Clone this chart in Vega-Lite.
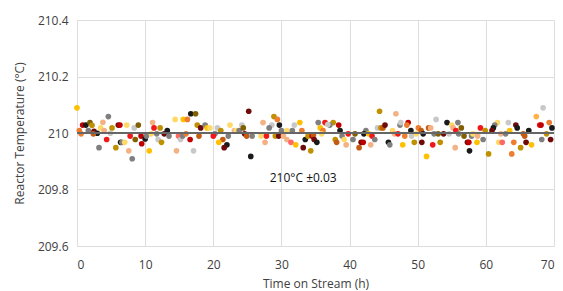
{
"$schema":"https://vega.github.io/schema/vega-lite/v6.json",
"width":477,"height":226,
"autosize":"none",
"padding":{"left":77,"top":20,"right":9,"bottom":45},
"config":{"view":{"stroke":null},"font":"Open Sans",
 "axis":{"labelColor":"#404040","titleColor":"#404040","labelFontSize":12,"titleFontSize":12,"titleFontWeight":"normal","gridColor":"#DDDDDD","domainColor":"#DDDDDD","ticks":false,"labelPadding":9}},
"datasets":{
"pts":[
{"x":0,"y":210.089,"c":"Y"},{"x":0.34,"y":210.009,"c":"O"},{"x":0.6,"y":209.997,"c":"O"},{"x":0.83,"y":210.028,"c":"DR"},{"x":1.3,"y":210.028,"c":"K"},{"x":1.9,"y":210.037,"c":"OL"},{"x":2.2,"y":210.027,"c":"G"},{"x":1.66,"y":210.009,"c":"DG"},{"x":2.5,"y":210.006,"c":"M"},{"x":2.98,"y":209.999,"c":"K"},{"x":2.4,"y":209.997,"c":"RU"},{"x":3.47,"y":210.018,"c":"LY"},{"x":3.8,"y":210.038,"c":"P"},{"x":4.6,"y":210.058,"c":"DG"},{"x":3.99,"y":210.009,"c":"P"},{"x":4.9,"y":209.999,"c":"LG"},{"x":5.14,"y":210.018,"c":"G"},{"x":6.06,"y":210.028,"c":"M"},{"x":6.3,"y":210.028,"c":"DR"},{"x":7.3,"y":210.028,"c":"LY"},{"x":8.4,"y":210.018,"c":"LG"},{"x":9.0,"y":210.028,"c":"OL"},{"x":4.35,"y":209.977,"c":"R"},{"x":3.23,"y":209.948,"c":"DG"},{"x":5.7,"y":209.948,"c":"G"},{"x":6.4,"y":209.967,"c":"K"},{"x":6.6,"y":209.967,"c":"DG"},{"x":7.0,"y":209.967,"c":"LY"},{"x":7.8,"y":209.989,"c":"R"},{"x":7.6,"y":209.937,"c":"P"},{"x":8.1,"y":209.909,"c":"DG"},{"x":8.55,"y":209.977,"c":"OL"},
{"x":9.4,"y":209.989,"c":"DR"},{"x":10.0,"y":209.979,"c":"K"},{"x":9.5,"y":209.962,"c":"DR"},{"x":10.2,"y":209.989,"c":"DG"},{"x":11.1,"y":210.037,"c":"P"},{"x":11.3,"y":210.018,"c":"R"},{"x":12.2,"y":210.018,"c":"G"},{"x":10.9,"y":209.997,"c":"LY"},{"x":11.7,"y":209.997,"c":"DG"},{"x":11.9,"y":209.977,"c":"LG"},{"x":12.4,"y":209.967,"c":"G"},{"x":12.8,"y":209.997,"c":"M"},{"x":13.25,"y":210.009,"c":"K"},{"x":13.5,"y":209.989,"c":"DG"},{"x":14.9,"y":209.989,"c":"S"},{"x":15.2,"y":209.977,"c":"LG"},{"x":15.5,"y":209.989,"c":"DG"},{"x":16.0,"y":209.997,"c":"O"},{"x":16.6,"y":209.977,"c":"DR"},{"x":17.9,"y":209.989,"c":"RU"},{"x":14.4,"y":210.048,"c":"LY"},{"x":15.6,"y":210.048,"c":"Y"},{"x":16.2,"y":210.048,"c":"O"},{"x":16.7,"y":210.068,"c":"K"},{"x":17.4,"y":210.068,"c":"OL"},{"x":17.65,"y":210.028,"c":"G"},{"x":18.15,"y":210.018,"c":"M"},{"x":18.8,"y":210.028,"c":"DG"},{"x":19.1,"y":210.018,"c":"Y"},{"x":10.6,"y":209.937,"c":"Y"},{"x":14.6,"y":209.937,"c":"P"},{"x":17.1,"y":209.937,"c":"LG"},
{"x":19.5,"y":210.018,"c":"LY"},{"x":20.25,"y":209.997,"c":"DG"},{"x":20.0,"y":209.989,"c":"R"},{"x":20.6,"y":210.018,"c":"LG"},{"x":21.1,"y":210.009,"c":"G"},{"x":21.4,"y":209.977,"c":"RU"},{"x":20.8,"y":209.967,"c":"Y"},{"x":22.0,"y":209.958,"c":"K"},{"x":21.6,"y":209.948,"c":"M"},{"x":22.45,"y":210.028,"c":"LY"},{"x":22.2,"y":209.989,"c":"DG"},{"x":23.1,"y":210.009,"c":"P"},{"x":23.4,"y":210.009,"c":"LY"},{"x":23.8,"y":210.009,"c":"DG"},{"x":24.2,"y":210.028,"c":"LG"},{"x":24.4,"y":210.018,"c":"OL"},{"x":24.6,"y":209.997,"c":"M"},{"x":24.9,"y":209.989,"c":"RU"},{"x":25.7,"y":209.989,"c":"DG"},{"x":25.2,"y":210.077,"c":"M"},{"x":25.5,"y":209.917,"c":"K"},{"x":27.0,"y":209.989,"c":"LY"},{"x":27.6,"y":209.967,"c":"P"},{"x":27.3,"y":210.037,"c":"P"},{"x":28.6,"y":210.028,"c":"LG"},{"x":28.9,"y":210.058,"c":"G"},{"x":29.4,"y":210.048,"c":"O"},{"x":28.2,"y":210.018,"c":"DG"},{"x":27.8,"y":209.989,"c":"R"},{"x":29.7,"y":210.028,"c":"K"},{"x":29.1,"y":209.989,"c":"G"},{"x":29.6,"y":209.989,"c":"M"},
{"x":30.0,"y":210.009,"c":"DG"},{"x":30.8,"y":210.009,"c":"LY"},{"x":31.6,"y":210.009,"c":"DG"},{"x":31.9,"y":210.028,"c":"LG"},{"x":32.7,"y":210.037,"c":"Y"},{"x":33.0,"y":210.009,"c":"O"},{"x":30.3,"y":209.989,"c":"P"},{"x":30.8,"y":209.977,"c":"P"},{"x":31.4,"y":209.967,"c":"S"},{"x":32.1,"y":209.958,"c":"Y"},{"x":33.5,"y":209.977,"c":"K"},{"x":33.9,"y":209.989,"c":"G"},{"x":34.5,"y":209.989,"c":"DR"},{"x":34.7,"y":209.993,"c":"RU"},{"x":34.8,"y":209.977,"c":"M"},{"x":35.2,"y":209.967,"c":"K"},{"x":33.2,"y":209.948,"c":"M"},{"x":34.3,"y":209.937,"c":"G"},{"x":35.4,"y":210.037,"c":"DG"},{"x":36.4,"y":210.037,"c":"R"},{"x":37.6,"y":210.037,"c":"G"},{"x":37.1,"y":210.028,"c":"DG"},{"x":36.8,"y":210.03,"c":"LG"},{"x":35.7,"y":210.018,"c":"Y"},{"x":36.1,"y":210.009,"c":"O"},{"x":35.9,"y":209.997,"c":"LY"},{"x":38.4,"y":210.028,"c":"DR"},{"x":38.6,"y":210.009,"c":"K"},{"x":38.9,"y":209.989,"c":"DG"},{"x":37.9,"y":209.977,"c":"G"},{"x":38.1,"y":209.967,"c":"RU"},{"x":39.2,"y":209.977,"c":"LY"},{"x":39.5,"y":209.958,"c":"P"},{"x":39.8,"y":209.997,"c":"R"},
{"x":44.4,"y":210.077,"c":"G"},{"x":46.8,"y":210.068,"c":"P"},{"x":40.5,"y":209.977,"c":"DG"},{"x":40.8,"y":209.997,"c":"OL"},{"x":41.7,"y":209.967,"c":"M"},{"x":42.0,"y":209.967,"c":"DR"},{"x":41.4,"y":209.948,"c":"RU"},{"x":42.4,"y":210.009,"c":"DG"},{"x":42.1,"y":209.997,"c":"K"},{"x":42.8,"y":209.997,"c":"Y"},{"x":43.3,"y":209.989,"c":"R"},{"x":43.1,"y":209.958,"c":"P"},{"x":43.7,"y":209.977,"c":"DG"},{"x":44.1,"y":210.018,"c":"LG"},{"x":44.6,"y":210.018,"c":"G"},{"x":44.9,"y":210.018,"c":"RU"},{"x":45.2,"y":210.028,"c":"M"},{"x":46.3,"y":210.009,"c":"LY"},{"x":46.6,"y":209.997,"c":"P"},{"x":47.1,"y":209.997,"c":"R"},{"x":47.4,"y":210.028,"c":"DG"},{"x":47.5,"y":210.037,"c":"LG"},{"x":48.6,"y":210.037,"c":"DR"},{"x":48.4,"y":210.028,"c":"O"},{"x":45.7,"y":209.967,"c":"K"},{"x":45.9,"y":209.958,"c":"DG"},{"x":47.8,"y":209.958,"c":"Y"},{"x":48.1,"y":209.989,"c":"O"},{"x":49.0,"y":210.009,"c":"K"},{"x":49.1,"y":209.989,"c":"LG"},{"x":49.5,"y":209.967,"c":"G"},{"x":49.8,"y":209.997,"c":"LY"},{"x":50.1,"y":210.018,"c":"O"},
{"x":52.7,"y":210.048,"c":"LG"},{"x":54.3,"y":210.037,"c":"K"},{"x":55.9,"y":210.037,"c":"DG"},{"x":55.0,"y":210.028,"c":"LY"},{"x":55.2,"y":210.018,"c":"P"},{"x":56.4,"y":210.018,"c":"OL"},{"x":59.2,"y":210.018,"c":"R"},{"x":59.9,"y":210.009,"c":"G"},{"x":50.5,"y":210.009,"c":"RU"},{"x":51.6,"y":210.018,"c":"RU"},{"x":51.9,"y":210.018,"c":"P"},{"x":50.8,"y":209.997,"c":"K"},{"x":52.4,"y":209.997,"c":"DG"},{"x":53.0,"y":209.997,"c":"OL"},{"x":53.8,"y":209.997,"c":"M"},{"x":54.6,"y":209.997,"c":"LG"},{"x":55.6,"y":210.009,"c":"R"},{"x":56.0,"y":209.997,"c":"DG"},{"x":56.8,"y":209.989,"c":"OL"},{"x":57.9,"y":209.989,"c":"DG"},{"x":58.1,"y":209.997,"c":"LY"},{"x":58.8,"y":209.989,"c":"P"},{"x":57.3,"y":209.967,"c":"M"},{"x":57.5,"y":209.967,"c":"DR"},{"x":58.7,"y":209.967,"c":"Y"},{"x":59.6,"y":209.977,"c":"DG"},{"x":50.6,"y":209.967,"c":"M"},{"x":52.2,"y":209.958,"c":"R"},{"x":53.3,"y":209.967,"c":"G"},{"x":55.5,"y":209.948,"c":"P"},{"x":57.6,"y":209.937,"c":"K"},{"x":51.3,"y":209.917,"c":"Y"},{"x":60.4,"y":209.926,"c":"G"},
{"x":68.4,"y":210.089,"c":"LG"},{"x":67.4,"y":210.058,"c":"LO"},{"x":67.9,"y":210.028,"c":"R"},{"x":68.1,"y":210.028,"c":"DR"},{"x":69.3,"y":210.037,"c":"O"},{"x":69.7,"y":210.018,"c":"K"},{"x":68.9,"y":209.997,"c":"G"},{"x":68.2,"y":209.977,"c":"DG"},{"x":69.5,"y":209.977,"c":"M"},{"x":61.7,"y":210.037,"c":"LY"},{"x":61.3,"y":210.028,"c":"DG"},{"x":61.1,"y":210.018,"c":"K"},{"x":60.9,"y":210.009,"c":"M"},{"x":63.3,"y":210.037,"c":"LG"},{"x":64.4,"y":210.028,"c":"M"},{"x":64.6,"y":210.018,"c":"K"},{"x":62.2,"y":209.997,"c":"P"},{"x":63.5,"y":210.009,"c":"Y"},{"x":62.9,"y":209.997,"c":"DG"},{"x":65.5,"y":209.997,"c":"RU"},{"x":65.7,"y":209.989,"c":"RU"},{"x":66.3,"y":210.009,"c":"K"},{"x":61.9,"y":209.967,"c":"LY"},{"x":62.4,"y":209.967,"c":"S"},{"x":64.1,"y":209.967,"c":"O"},{"x":65.9,"y":209.967,"c":"M"},{"x":66.7,"y":209.958,"c":"Y"},{"x":65.1,"y":209.948,"c":"G"},{"x":63.8,"y":209.926,"c":"O"}
],
"ref":[{"v":210}],
"lab":[{"x":33.2,"y":209.842,"t":"210°C ±0.03"}]
},
"layer":[
{"data":{"name":"pts"},"mark":{"type":"circle","size":32,"opacity":1},
 "encoding":{
  "x":{"field":"x","type":"quantitative","scale":{"domain":[0,70],"nice":false},"axis":{"values":[0,10,20,30,40,50,60,70],"title":"Time on Stream (h)","labelPadding":13,"titlePadding":8}},
  "y":{"field":"y","type":"quantitative","scale":{"domain":[209.6,210.4],"nice":false,"zero":false},"axis":{"values":[209.6,209.8,210,210.2,210.4],"format":"~f","title":"Reactor Temperature (°C)","titlePadding":11}},
  "color":{"field":"c","type":"nominal","legend":null,"scale":{"domain":["Y","LY","LO","P","O","R","S","DR","M","RU","G","OL","K","DG","LG"],"range":["#FFC000","#FFD966","#FFB347","#F4B183","#ED7D31","#F01818","#FF6666","#C00000","#6E0A0A","#C55A11","#BF9000","#806000","#1A1A1A","#7F7F7F","#C8C8C8"]}}
 }},
{"data":{"name":"ref"},"mark":{"type":"rule","color":"#666666","strokeWidth":2},"encoding":{"y":{"field":"v","type":"quantitative"}}},
{"data":{"name":"lab"},"mark":{"type":"text","fontSize":12,"color":"#111111","font":"Open Sans"},"encoding":{"x":{"field":"x","type":"quantitative"},"y":{"field":"y","type":"quantitative"},"text":{"field":"t"}}}
]
}
